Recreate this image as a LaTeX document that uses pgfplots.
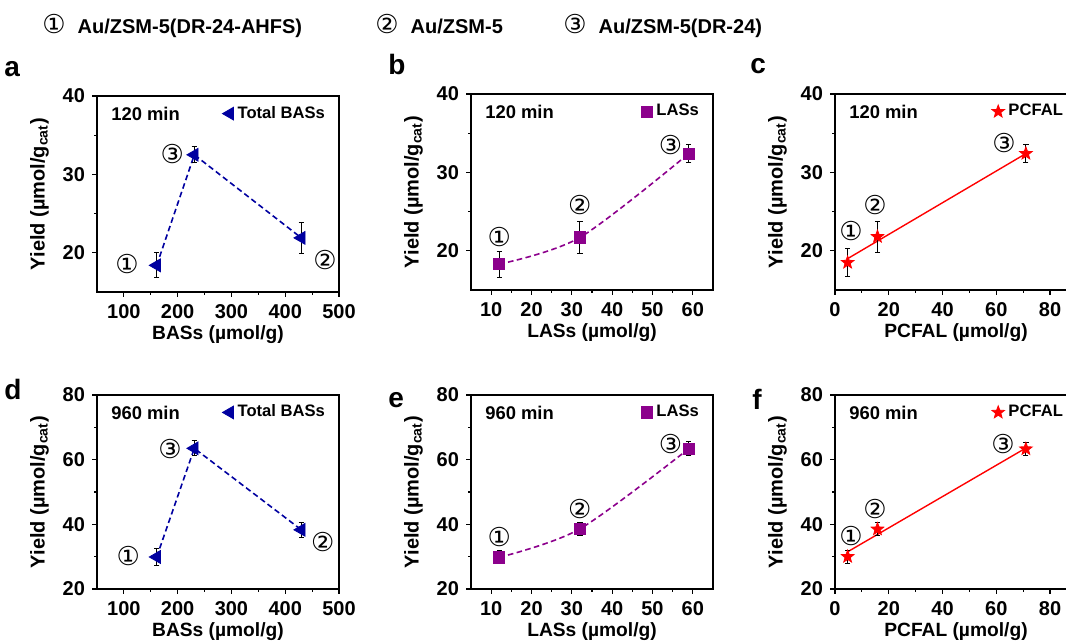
\documentclass[border=0pt]{standalone}
\usepackage{pgfplots}
\pgfplotsset{compat=1.18}
\usepackage{fontspec}
\setmainfont{Liberation Sans}
\newfontfamily\cfont{DejaVu Sans}
\definecolor{cblue}{RGB}{0,0,160}
\definecolor{cpurp}{RGB}{140,0,140}
\definecolor{cred}{RGB}{255,0,0}

% filled five point star
\pgfdeclareplotmark{fstar}{%
  \pgfpathmoveto{\pgfpointpolar{90}{\pgfplotmarksize}}%
  \pgfpathlineto{\pgfpointpolar{126}{0.42\pgfplotmarksize}}%
  \pgfpathlineto{\pgfpointpolar{162}{\pgfplotmarksize}}%
  \pgfpathlineto{\pgfpointpolar{198}{0.42\pgfplotmarksize}}%
  \pgfpathlineto{\pgfpointpolar{234}{\pgfplotmarksize}}%
  \pgfpathlineto{\pgfpointpolar{270}{0.42\pgfplotmarksize}}%
  \pgfpathlineto{\pgfpointpolar{306}{\pgfplotmarksize}}%
  \pgfpathlineto{\pgfpointpolar{342}{0.42\pgfplotmarksize}}%
  \pgfpathlineto{\pgfpointpolar{18}{\pgfplotmarksize}}%
  \pgfpathlineto{\pgfpointpolar{54}{0.42\pgfplotmarksize}}%
  \pgfpathclose
  \pgfusepathqfillstroke}

\pgfplotsset{
  panel/.style={
    scale only axis, width=121pt, height=98pt, anchor=south west,
    axis line style={line width=0.7pt},
    tick align=outside, xtick pos=left, ytick pos=left,
    major tick length=2.5pt, minor tick length=1.5pt,
    every tick/.style={black, line width=0.6pt},
    minor x tick num=1, minor y tick num=1,
    /pgf/number format/assume math mode=true,
    tick label style={font=\fontsize{10}{11}\selectfont\bfseries},
    label style={font=\fontsize{10}{12}\selectfont\bfseries},
    xlabel style={font=\fontsize{9.6}{11}\selectfont\bfseries, yshift=3pt},
    ylabel={Yield (µmol/g\textsubscript{cat})},
    legend style={draw=none, fill=none, inner sep=0pt,
      font=\fontsize{8.3}{10}\selectfont\bfseries,
      at={(rel axis cs:0.96,0.91)}, anchor=east},
    clip=false,
  },
  xbas/.style={xmin=50, xmax=500, xtick={100,200,...,500}, xlabel={BASs (µmol/g)}},
  xlas/.style={xmin=5, xmax=65, xtick={10,20,...,60}, xlabel={LASs (µmol/g)}},
  xpcf/.style={xmin=0, xmax=90, xtick={0,20,...,80}, xlabel={PCFAL (µmol/g)}},
  y120/.style={ymin=15, ymax=40, ytick={20,30,40}},
  y960/.style={ymin=20, ymax=80, ytick={20,40,60,80}},
  ebar/.style={only marks,
    error bars/y dir=both, error bars/y explicit,
    error bars/error bar style={black, line width=0.5pt},
    error bars/error mark options={black, rotate=90, mark size=1.3pt, line width=0.5pt}},
  dline/.style={line width=0.8pt, dash pattern=on 2.8pt off 1.7pt, forget plot},
  tri/.style={cblue, mark=triangle*, mark size=3.7pt, mark options={rotate=90, fill=cblue, draw=cblue}},
  sq/.style={cpurp, mark=square*, mark size=2.8pt, mark options={fill=cpurp, draw=cpurp}},
  st/.style={cred, mark=fstar, mark size=3.3pt, mark options={fill=cred, draw=cred}},
}
\tikzset{
  num/.style={font=\fontsize{13}{14}\selectfont\cfont},
  tin/.style={anchor=west, font=\fontsize{9.2}{10}\selectfont\bfseries},
  plab/.style={anchor=base west, font=\fontsize{14}{16}\selectfont\bfseries},
}

\begin{document}
\begin{tikzpicture}

% top row key
\node[anchor=base west, inner sep=0pt, font=\fontsize{10}{12}\selectfont] at (21pt,304pt) {{\fontsize{13}{14}\selectfont\cfont ①}\hspace{6pt}\bfseries Au/ZSM-5(DR-24-AHFS)};
\node[anchor=base west, inner sep=0pt, font=\fontsize{10}{12}\selectfont] at (187.5pt,304pt) {{\fontsize{13}{14}\selectfont\cfont ②}\hspace{6pt}\bfseries Au/ZSM-5};
\node[anchor=base west, inner sep=0pt, font=\fontsize{10}{12}\selectfont] at (281.5pt,304pt) {{\fontsize{13}{14}\selectfont\cfont ③}\hspace{6pt}\bfseries Au/ZSM-5(DR-24)};

\node[plab, inner sep=0pt] at (2pt,282.5pt) {a};
\node[plab, inner sep=0pt] at (194pt,283.5pt) {b};
\node[plab, inner sep=0pt] at (375pt,284pt) {c};
\node[plab, inner sep=0pt] at (2pt,121pt) {d};
\node[plab, inner sep=0pt] at (194pt,117pt) {e};
\node[plab, inner sep=0pt] at (376pt,116pt) {f};

% a
\begin{axis}[panel, xbas, y120, at={(48.5pt,175pt)}]
\addplot[cblue, dline] coordinates {(161,18.4) (231,32.5) (430,21.9)};
\addplot[tri, ebar] coordinates {(161,18.4) +- (0,1.6) (231,32.5) +- (0,1.0) (430,21.9) +- (0,2.0)};
\addlegendentry{Total BASs}
\node[tin] at (rel axis cs:0.03,0.91) {120 min};
\node[num] at (axis cs:106,18.6) {①};
\node[num] at (axis cs:190,32.6) {③};
\node[num] at (axis cs:474,19.1) {②};
\end{axis}

% b
\begin{axis}[panel, xlas, y120, at={(235.5pt,176pt)}]
\addplot[cpurp, dline, smooth] coordinates {(12,18.3) (32,21.7) (59,32.4)};
\addplot[sq, ebar] coordinates {(12,18.3) +- (0,1.65) (32,21.7) +- (0,2.05) (59,32.4) +- (0,1.1)};
\addlegendentry{LASs}
\node[tin] at (rel axis cs:0.03,0.91) {120 min};
\node[num] at (axis cs:12,21.8) {①};
\node[num] at (axis cs:32,25.9) {②};
\node[num] at (axis cs:54.5,33.5) {③};
\end{axis}

% c
\begin{axis}[panel, xpcf, y120, at={(417.5pt,176pt)}]
\addplot[cred, line width=0.7pt, forget plot] coordinates {(4.7,19.0) (71,32.4)};
\addplot[st, ebar] coordinates {(4.7,18.5) +- (0,1.8) (15.8,21.8) +- (0,2.0) (71,32.4) +- (0,1.1)};
\addlegendentry{PCFAL}
\node[tin] at (rel axis cs:0.03,0.91) {120 min};
\node[num] at (axis cs:6,22.5) {①};
\node[num] at (axis cs:14.9,25.9) {②};
\node[num] at (axis cs:62.9,33.8) {③};
\end{axis}

% d
\begin{axis}[panel, xbas, y960, height=97pt, at={(48.5pt,26.5pt)}]
\addplot[cblue, dline] coordinates {(161,29.9) (231,63.5) (430,38.3)};
\addplot[tri, ebar] coordinates {(161,29.9) +- (0,2.7) (231,63.5) +- (0,2.3) (430,38.3) +- (0,2.4)};
\addlegendentry{Total BASs}
\node[tin] at (rel axis cs:0.03,0.91) {960 min};
\node[num] at (axis cs:108,30.2) {①};
\node[num] at (axis cs:186,63.3) {③};
\node[num] at (axis cs:470,34.5) {②};
\end{axis}

% e
\begin{axis}[panel, xlas, y960, height=97pt, at={(235.5pt,26.5pt)}]
\addplot[cpurp, dline, smooth] coordinates {(12,29.8) (32,38.6) (59,63.4)};
\addplot[sq, ebar] coordinates {(12,29.8) +- (0,2.0) (32,38.6) +- (0,2.1) (59,63.4) +- (0,2.1)};
\addlegendentry{LASs}
\node[tin] at (rel axis cs:0.03,0.91) {960 min};
\node[num] at (axis cs:12,36.1) {①};
\node[num] at (axis cs:32,44.7) {②};
\node[num] at (axis cs:54.5,64.8) {③};
\end{axis}

% f
\begin{axis}[panel, xpcf, y960, height=97pt, at={(417.5pt,26.5pt)}]
\addplot[cred, line width=0.7pt, forget plot] coordinates {(4.7,31.5) (71,63.6)};
\addplot[st, ebar] coordinates {(4.7,30.0) +- (0,2.0) (15.8,38.5) +- (0,2.0) (71,63.3) +- (0,2.0)};
\addlegendentry{PCFAL}
\node[tin] at (rel axis cs:0.03,0.91) {960 min};
\node[num] at (axis cs:6,36.4) {①};
\node[num] at (axis cs:14.9,44.7) {②};
\node[num] at (axis cs:62.5,64.8) {③};
\end{axis}

\pgfresetboundingbox
\path[use as bounding box] (0,0) rectangle (533pt,321pt);
\end{tikzpicture}
\end{document}
